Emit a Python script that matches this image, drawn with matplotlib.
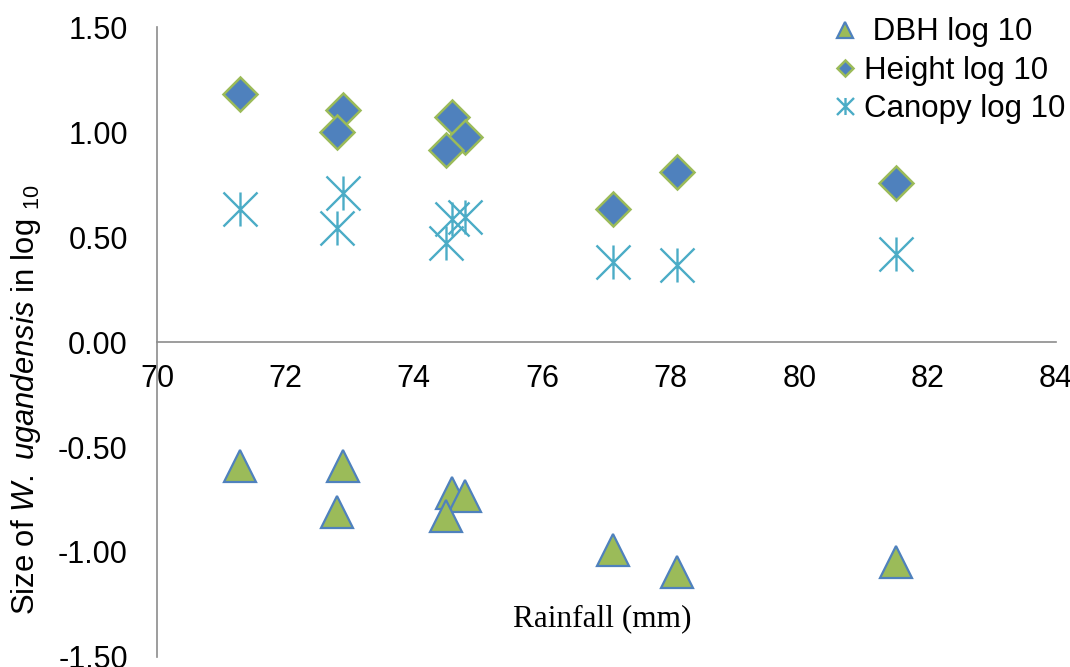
import matplotlib
matplotlib.use("Agg")
import matplotlib.pyplot as plt
from matplotlib.path import Path

plt.rcParams['font.family'] = ['Liberation Sans', 'DejaVu Sans']
plt.rcParams['axes.unicode_minus'] = False
plt.rcParams['mathtext.fontset'] = 'custom'
plt.rcParams['mathtext.rm'] = 'Liberation Sans'
plt.rcParams['mathtext.it'] = 'Liberation Sans:italic'

# rainfall (mm) per site
rainfall = [71.3, 72.9, 72.8, 74.6, 74.8, 74.5, 77.1, 78.1, 81.5]
dbh_log = [-0.59, -0.59, -0.81, -0.72, -0.735, -0.83, -0.99, -1.095, -1.05]
height_log = [1.18, 1.105, 1.00, 1.07, 0.975, 0.915, 0.635, 0.81, 0.755]
canopy_log = [0.635, 0.71, 0.545, 0.585, 0.595, 0.47, 0.38, 0.365, 0.42]

xticks = [70, 72, 74, 76, 78, 80, 82, 84]
yticks = [-1.5, -1.0, -0.5, 0.0, 0.5, 1.0, 1.5]

blue = '#4F81BD'
green = '#9BBB59'
aqua = '#4BACC6'
axis_grey = '#8C8C8C'

# asterisk like the excel one: an X plus a vertical bar
star = Path([(-1, -1), (1, 1), (-1, 1), (1, -1), (0, -1), (0, 1)],
            [Path.MOVETO, Path.LINETO, Path.MOVETO, Path.LINETO, Path.MOVETO, Path.LINETO])

fig = plt.figure(figsize=(10.7, 6.67), dpi=100)
ax = fig.add_axes([0.1467, 0.0150, 0.8403, 0.9445])

ax.plot(rainfall, dbh_log, linestyle='none', marker='^', ms=22.5,
        mfc=green, mec=blue, mew=1.6, label=' DBH log 10')
ax.plot(rainfall, height_log, linestyle='none', marker='D', ms=17,
        mfc=blue, mec=green, mew=1.8, label='Height log 10')
ax.plot(rainfall, canopy_log, linestyle='none', marker=star, ms=24.5,
        mfc='none', mec=aqua, mew=1.7, label='Canopy log 10')

ax.set_xlim(70, 84)
ax.set_ylim(-1.5, 1.5)
ax.set_xticks(xticks)
ax.set_xticklabels([str(t) for t in xticks])
ax.set_yticks(yticks)
ax.set_yticklabels(['%.2f' % t for t in yticks])

ax.spines['top'].set_visible(False)
ax.spines['right'].set_visible(False)
ax.spines['bottom'].set_position(('data', 0))
for s in ['left', 'bottom']:
    ax.spines[s].set_color(axis_grey)
    ax.spines[s].set_linewidth(1.2)
ax.tick_params(axis='x', length=0, pad=16, labelsize=22)
ax.tick_params(axis='y', length=0, pad=21, labelsize=22)

fig.text(0.024, 0.40, r'Size of $\mathit{W.\ ugandensis}$ in log $_{10}$',
         rotation=90, ha='center', va='center', fontsize=22.3)
fig.text(0.5625, 0.073, 'Rainfall (mm)', ha='center', va='center',
         fontsize=22.5, family='Liberation Serif')

leg = ax.legend(loc='upper right', bbox_to_anchor=(1.024, 1.035), frameon=False,
                fontsize=22.5, markerscale=0.5, handlelength=0.7,
                handletextpad=0.25, labelspacing=0.27, borderaxespad=0)

fig.savefig('out.png', dpi=100)
